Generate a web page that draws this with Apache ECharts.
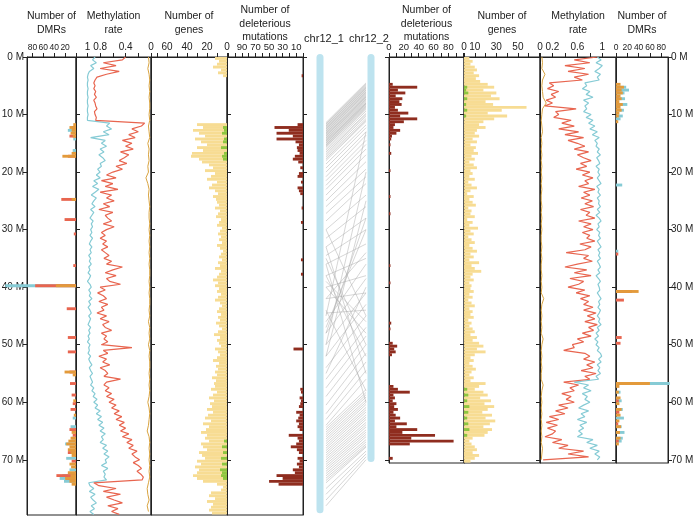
<!DOCTYPE html>
<html>
<head>
<meta charset="utf-8">
<script src="https://cdn.jsdelivr.net/npm/echarts@6/dist/echarts.min.js"></script>
<style>
  html, body { margin: 0; padding: 0; background: #fff; }
  #chart { width: 696px; height: 517px; }
</style>
</head>
<body>
<div id="chart"></div>
<script>
// bin size along the chromosome (Mb) and chromosome extents
const BIN = 0.5
const LEFT_LEN = 79.6
const RIGHT_LEN = 70.56
const MB_TICKS = [0, 10, 20, 30, 40, 50, 60, 70]
const FONT = 'Liberation Sans, Arial, sans-serif'

// methylation rate, chr12_1, every 0.5 Mb from 0
const leftMethRed = [
  0.40, 0.45, 0.75, 0.55, 0.80, 0.50, 0.70, 0.85, 0.88, 0.90,
  0.88, 0.90, 0.87, 0.89, 0.86, 0.90, 0.88, 0.87, 0.85, 0.89, 0.88, 0.86, 0.87,
  0.10,
  0.15, 0.30, 0.20, 0.35, 0.25, 0.45, 0.30, 0.40, 0.28, 0.48, 0.35, 0.42, 0.50, 0.38, 0.55, 0.45, 0.60,
  0.70, 0.55, 0.78, 0.60, 0.72, 0.52, 0.80, 0.62, 0.70, 0.58, 0.75, 0.65, 0.82, 0.60, 0.72, 0.68, 0.62, 0.75, 0.58, 0.70,
  0.78, 0.72, 0.80, 0.70, 0.76, 0.68, 0.78, 0.72, 0.66, 0.74, 0.62, 0.70, 0.45, 0.60, 0.72, 0.55, 0.70, 0.65,
  0.48,
  0.80, 0.72, 0.84, 0.75, 0.70, 0.82, 0.68, 0.78, 0.74, 0.85, 0.70, 0.80, 0.66, 0.76, 0.72, 0.62, 0.78, 0.70, 0.74, 0.68, 0.78,
  0.30,
  0.75, 0.68, 0.82, 0.70, 0.76, 0.65, 0.80, 0.72, 0.68, 0.74, 0.48,
  0.70, 0.74, 0.66, 0.72, 0.62, 0.70, 0.58, 0.66, 0.55, 0.62, 0.50, 0.58, 0.46, 0.55, 0.42, 0.50, 0.40, 0.48, 0.35, 0.45,
  0.30,
  0.38, 0.28, 0.35, 0.22, 0.30, 0.25, 0.18, 0.28, 0.20, 0.15, 0.22, 0.16, 0.12, 0.14,
  0.90,
  0.82, 0.55, 0.75, 0.48, 0.70, 0.58, 0.45, 0.68, 0.52, 0.62, 0.50
]
const leftMethBlue = [
  0.88, 0.92, 0.86, 0.95, 0.90, 0.97, 0.99, 1.00, 0.99, 1.00,
  1.00, 0.99, 1.00, 1.00, 0.99, 1.00, 1.00, 0.99, 1.00, 1.00, 0.99, 1.00, 1.00,
  0.65,
  0.70, 0.62, 0.75, 0.66, 0.95, 0.72, 0.78, 0.70, 0.80, 0.74, 0.82, 0.76, 0.72, 0.80, 0.78, 0.84, 0.80,
  0.86, 0.80, 0.90, 0.84, 0.92, 0.82, 0.88, 0.94, 0.86, 0.90, 0.93, 0.88, 0.95, 0.90, 0.93, 0.96, 0.91, 0.94, 0.92, 0.95,
  0.93, 0.96, 0.92, 0.95, 0.97, 0.93, 0.96, 0.94, 0.98, 0.95, 0.97, 0.94, 0.98, 0.96, 0.99, 0.95, 0.97, 1.00,
  0.96,
  0.94, 0.98, 0.95, 0.97, 0.93, 0.98, 0.95, 0.99, 0.96, 0.94, 0.98, 0.95, 0.97, 0.99, 0.95, 0.98, 0.96, 0.99, 0.97, 1.00, 0.96,
  0.98,
  0.97, 0.99, 0.95, 0.98, 0.96, 0.93, 0.97, 0.95, 0.92, 0.96, 0.94,
  0.92, 0.95, 0.90, 0.93, 0.88, 0.91, 0.85, 0.90, 0.84, 0.88, 0.80, 0.86, 0.78, 0.84, 0.76, 0.82, 0.74, 0.80, 0.72, 0.78,
  0.75,
  0.80, 0.70, 0.76, 0.68, 0.74, 0.66, 0.72, 0.70, 0.78, 0.68, 0.75, 0.72, 0.74, 0.70,
  0.98,
  0.96, 0.90, 0.97, 0.88, 0.95, 0.91, 0.86, 0.94, 0.89, 0.96, 0.90
]
// every 1 Mb from 0
const leftMethOrange = [
  0.04, 0.03, 0.05, 0.03, 0.02, 0.03, 0.02, 0.03, 0.02, 0.02,
  0.03, 0.02, 0.04, 0.03, 0.02, 0.05, 0.03, 0.04, 0.03, 0.05,
  0.04, 0.08, 0.05, 0.03, 0.04, 0.03, 0.02, 0.03, 0.03, 0.02,
  0.03, 0.02, 0.03, 0.02, 0.03, 0.02, 0.03, 0.02, 0.02, 0.03,
  0.02, 0.03, 0.02, 0.02, 0.03, 0.02, 0.04, 0.02, 0.03, 0.02,
  0.04, 0.02, 0.03, 0.02, 0.02, 0.03, 0.02, 0.03, 0.02, 0.03,
  0.05, 0.03, 0.02, 0.03, 0.04, 0.06, 0.03, 0.02, 0.03, 0.02,
  0.03, 0.02, 0.03, 0.02, 0.04, 0.06, 0.05, 0.03, 0.06, 0.04
]

// methylation rate, chr12_2, every 0.5 Mb from 0
const rightMethRed = [
  0.92, 0.55, 0.80, 0.40, 0.72, 0.45, 0.78, 0.55, 0.68,
  0.15, 0.22, 0.12, 0.30, 0.18, 0.25, 0.10, 0.20, 0.08,
  0.58, 0.25, 0.30, 0.22, 0.50, 0.35,
  0.55, 0.30, 0.62, 0.40, 0.70, 0.45, 0.60,
  0.72, 0.55, 0.78, 0.60, 0.70, 0.82, 0.65, 0.75, 0.58, 0.80,
  0.68, 0.85, 0.72, 0.78, 0.62, 0.88, 0.70, 0.80, 0.66, 0.84,
  0.72, 0.86, 0.65, 0.80, 0.74, 0.88, 0.62, 0.82, 0.70, 0.85, 0.68, 0.80, 0.75, 0.88, 0.64, 0.82, 0.72, 0.42, 0.78, 0.70,
  0.84, 0.60, 0.40, 0.75, 0.55, 0.82, 0.48, 0.70, 0.62, 0.45,
  0.72, 0.58, 0.80, 0.65, 0.78, 0.70,
  0.85, 0.70, 0.90, 0.76, 0.88, 0.72, 0.92, 0.78, 0.86, 0.68, 0.82, 0.60, 0.70, 0.52,
  0.55, 0.38, 0.72, 0.80,
  0.70, 0.88, 0.75, 0.85, 0.66, 0.90, 0.72, 0.80,
  0.38,
  0.62, 0.48, 0.55, 0.35, 0.50, 0.42, 0.55,
  0.30, 0.45, 0.25, 0.40,
  0.15, 0.30, 0.10, 0.28, 0.12, 0.25, 0.20, 0.08,
  0.35, 0.20, 0.45, 0.30,
  0.70, 0.45, 0.78, 0.05
]
const rightMethBlue = [
  0.92, 0.98, 0.90, 1.00, 0.95, 0.88, 0.97, 0.92, 0.95,
  0.72, 0.75, 0.68, 0.80, 0.74, 0.85, 0.70, 0.78, 0.72,
  0.75, 0.70, 0.82, 0.74, 0.85, 0.78,
  0.88, 0.80, 0.92, 0.84, 0.95, 0.88, 0.92,
  0.90, 0.95, 0.92, 0.97, 0.91, 0.94, 0.96, 0.90, 0.95, 0.93,
  0.96, 0.92, 0.95, 0.98, 0.91, 0.95, 0.93, 0.97, 0.92, 0.95,
  0.94, 0.97, 0.92, 0.96, 0.90, 0.95, 0.98, 0.93, 0.95, 0.91, 0.96, 0.94, 0.97, 0.92, 0.95, 0.98, 0.93, 0.96, 0.94, 0.97,
  0.92, 0.95, 0.97, 0.93, 0.96, 0.90, 0.94, 0.97, 0.93, 0.95,
  0.96, 0.92, 0.95, 0.98, 0.94, 0.96,
  0.93, 0.97, 0.95, 0.92, 0.96, 0.94, 0.98, 0.92, 0.95, 0.90, 0.94, 0.88, 0.93, 0.90,
  0.95, 0.92, 0.97, 0.99,
  0.94, 0.98, 0.92, 0.96, 0.93, 0.97, 0.90, 0.94,
  0.55,
  0.78, 0.70, 0.82, 0.68, 0.76, 0.72, 0.80,
  0.70, 0.62, 0.78, 0.66,
  0.72, 0.60, 0.75, 0.64, 0.70, 0.62, 0.68, 0.60,
  0.85, 0.75, 0.92, 0.80,
  0.95, 0.88, 0.96, 0.92
]
// every 1 Mb from 0
const rightMethOrange = [
  0.03, 0.04, 0.03, 0.08, 0.04, 0.03, 0.04, 0.05, 0.10, 0.04,
  0.03, 0.02, 0.03, 0.04, 0.02, 0.03, 0.02, 0.03, 0.02, 0.03,
  0.02, 0.03, 0.02, 0.03, 0.02, 0.02, 0.03, 0.02, 0.03, 0.02,
  0.03, 0.02, 0.02, 0.03, 0.02, 0.03, 0.02, 0.02, 0.03, 0.02,
  0.03, 0.02, 0.06, 0.03, 0.02, 0.03, 0.02, 0.03, 0.02, 0.05,
  0.03, 0.02, 0.03, 0.02, 0.03, 0.02, 0.02, 0.05, 0.03, 0.02,
  0.03, 0.02, 0.03, 0.02, 0.03, 0.02, 0.03, 0.02, 0.04, 0.03,
  0.02
]

// number of genes per 0.5 Mb bin
const leftGenes = [
  12, 8, 10, 14, 6, 9, 4, 0,
  0, 0, 0, 0, 0, 0, 0, 0, 0, 0, 0, 0, 0, 0, 0,
  30, 24, 34, 28, 22, 32, 26, 20, 30, 24, 35, 36, 28, 25,
  18, 14, 22, 12, 16, 20, 10, 15, 18, 12, 9, 14, 11,
  10, 8, 12, 7, 9, 11, 6, 8, 10, 5, 7, 9, 6, 8, 5, 10, 7, 4, 6, 8, 5, 9, 7, 12, 6, 8, 10, 14, 9, 12,
  8, 10, 6, 9, 12, 7, 5, 8, 10, 6, 9, 7, 11, 8, 5, 9, 13, 7, 10, 8, 6, 12, 9, 7, 10, 14, 8, 11, 9, 12, 10, 15, 11, 13,
  12, 16, 10, 14, 18, 13, 17, 15, 20, 14, 19, 22, 16, 24, 18, 21, 26, 20,
  22, 18, 26, 24, 20, 28, 25, 22, 30, 26, 32, 28, 30, 34, 30, 24,
  10, 4, 6,
  16, 18, 12, 20, 14, 16, 18, 15
]
const leftGenesGreen = [
  [12, 4], [12.5, 3], [13, 5], [14, 3], [14.5, 4], [15.5, 6], [16.5, 3], [17, 5], [17.5, 4],
  [66.5, 3], [67.5, 5], [68.5, 4], [69.5, 6], [70.5, 5], [71.5, 7], [72, 5], [72.5, 6], [73, 4]
]
const rightGenes = [
  5, 8, 6, 10,
  12, 9, 14, 11, 15,
  22, 28, 18, 30, 25, 33, 20, 27,
  58,
  35, 22, 40, 28,
  18, 14, 20, 12,
  10, 14, 8, 12, 6, 11, 9, 13, 7, 10, 5, 9, 12, 6,
  8, 5, 10, 4, 7, 12, 6, 3, 9, 5, 8, 11, 4, 7, 6, 10, 3, 8, 5, 13, 6, 9, 4, 7, 10, 5, 8, 12, 6, 9, 5, 14, 7, 10, 16, 8, 6, 9, 5, 7,
  6, 9, 5, 8, 4, 7, 10, 5, 8, 6, 9, 4, 7, 5, 8, 10, 6, 12, 8, 14,
  18, 12, 20, 10,
  6, 9, 5, 8, 11, 7, 5, 9, 6, 20,
  14, 10, 18, 22, 15, 25, 19, 28, 22, 17, 26, 20, 29, 24, 18, 26, 22, 19,
  8, 5, 7, 10,
  12, 8, 14, 10, 6
]
const rightGenesGreen = [
  [5, 3], [5.5, 2], [6, 4], [7, 3], [8, 2], [9, 3], [10, 2],
  [57.5, 3], [58.5, 4], [59.5, 3], [60.5, 5], [61.5, 4], [62.5, 3], [63.5, 4], [64.5, 5], [65.5, 3]
]

// number of deleterious mutations, [bin start Mb, count]
const leftDel = [
  [3, 2], [11.5, 8], [12, 42], [12.5, 21], [13, 39], [13.5, 15], [14, 39], [14.5, 11], [15, 6], [15.5, 9],
  [16, 8], [16.5, 5], [17, 12], [17.5, 15], [18, 7], [19, 4], [20, 6], [20.5, 8], [21.5, 3], [22.5, 8],
  [23, 6], [23.5, 4], [26, 2], [28.5, 3], [35, 3], [37.5, 3], [50.5, 14], [57.5, 4], [58, 3], [59, 5],
  [59.5, 3], [60, 4], [60.5, 6], [61.5, 10], [62, 5], [62.5, 7], [63, 10], [63.5, 6], [64, 8], [64.5, 5],
  [65.5, 21], [66, 8], [66.5, 6], [67, 10], [67.5, 18], [68, 9], [68.5, 6], [69.5, 8], [70, 5], [70.5, 9],
  [71, 6], [71.5, 15], [72, 12], [72.5, 39], [73, 30], [73.5, 50], [74, 36]
]
const rightDel = [
  [4.5, 5], [5, 38], [5.5, 12], [6, 22], [6.5, 9], [7, 18], [7.5, 14], [8, 17], [8.5, 8], [9, 12],
  [9.5, 26], [10, 15], [10.5, 38], [11, 20], [11.5, 8], [12, 6], [12.5, 15], [13, 10], [13.5, 4], [14, 3],
  [15, 2], [16.5, 3], [19.5, 2], [24, 2], [27, 2], [36, 2], [39, 2], [46, 3], [47, 2], [49.5, 5],
  [50, 11], [50.5, 7], [51, 9], [51.5, 4], [57, 6], [57.5, 12], [58, 28], [58.5, 6], [59, 8], [59.5, 5],
  [60, 10], [60.5, 7], [61, 12], [61.5, 6], [62, 9], [62.5, 15], [63, 8], [63.5, 24], [64, 10], [64.5, 38],
  [65, 18], [65.5, 62], [66, 30], [66.5, 87], [67, 28], [69.5, 5]
]

// number of DMRs, [bin start Mb, count]
const leftDmrCyan = [
  [12.5, 15], [14, 5], [16, 6], [39.5, 130], [62.5, 6], [64, 10], [66, 8], [67, 20], [69.5, 18],
  [71.5, 12], [72.5, 25], [73, 30], [73.5, 22]
]
const leftDmrRed = [
  [12, 8], [13.5, 12], [17, 15], [24.5, 27], [28, 21], [30.5, 4], [36, 5], [39.5, 75], [43.5, 17],
  [48.5, 15], [51, 15], [54.5, 12], [56.5, 11], [58.5, 8], [60, 6], [61, 10], [64.5, 12], [65.5, 6],
  [68.5, 15], [70, 8], [72.5, 36], [73, 18]
]
const leftDmrOrange = [
  [11.5, 5], [12, 12], [12.5, 8], [13, 10], [13.5, 6], [16.5, 8], [17, 25], [24.5, 8], [39.5, 37],
  [54.5, 21], [55, 6], [59.5, 5], [62, 4], [65, 8], [66, 10], [66.5, 14], [67, 18], [67.5, 12], [68, 15],
  [68.5, 10], [69, 8], [70.5, 12], [71, 9], [72, 15], [72.5, 10], [73, 20], [73.5, 12], [74, 8]
]
const rightDmrCyan = [
  [5, 18], [5.5, 23], [6, 15], [7, 16], [8, 20], [9, 14], [10, 12], [10.5, 8], [22, 11], [33.5, 4],
  [56.5, 95], [58, 8], [59.5, 10], [61, 12], [62.5, 14], [64, 10], [65, 15], [66, 12], [66.5, 10]
]
const rightDmrRed = [
  [5.5, 6], [7, 5], [34, 4], [40.5, 28], [42, 14], [48.5, 10], [49.5, 8], [59.5, 5], [61.5, 6],
  [63.5, 4], [66.5, 5]
]
const rightDmrOrange = [
  [4.5, 8], [5, 14], [5.5, 10], [6, 12], [6.5, 8], [7, 10], [7.5, 6], [8, 12], [8.5, 8], [9, 10],
  [9.5, 6], [10, 5], [11, 4], [40.5, 40], [56.5, 60], [57, 6], [58, 5], [59, 8], [60, 6], [61, 10],
  [62, 8], [63, 6], [64, 9], [65, 7], [66, 8], [67, 5]
]

// chromosomes and syntenic pairs [chr12_1 Mb, chr12_2 Mb]
const chromNames = ['chr12_1', 'chr12_2']
const chromLengths = [79.3, 70.4]
const synteny = [
  [11.4, 4.5], [11.6, 4.7], [11.7, 4.9], [11.9, 5.1], [12.0, 5.2], [12.2, 5.4], [12.3, 5.5], [12.5, 5.7],
  [12.6, 5.8], [12.8, 6.0], [12.9, 6.1], [13.1, 6.3], [13.2, 6.4], [13.4, 6.6], [13.5, 6.8], [13.7, 6.9],
  [13.8, 7.0], [14.0, 7.2], [14.1, 7.3], [14.3, 7.5], [14.4, 7.7], [14.6, 7.9], [14.7, 8.0], [14.9, 8.1],
  [15.0, 8.2], [15.2, 8.4], [15.3, 8.5], [15.5, 8.7], [15.6, 8.9], [15.9, 9.1], [16.2, 9.4], [16.5, 9.8],
  [16.8, 10.0], [17.1, 10.3], [17.4, 10.7], [17.7, 11.0], [18.0, 11.2],
  [18.6, 11.8], [19.3, 12.3], [20.0, 13.0], [20.8, 13.6], [21.5, 14.5], [22.3, 15.2], [23.0, 16.0],
  [24.0, 17.0], [25.0, 18.2], [26.0, 19.5], [27.2, 20.8], [28.5, 22.0], [30.0, 24.0], [31.5, 26.0],
  [33.0, 28.0], [34.5, 30.0], [36.0, 32.5], [38.0, 35.0], [40.0, 38.0], [42.0, 41.0], [44.5, 44.0],
  [45, 13], [50, 20], [38, 52], [40, 48], [33, 55], [36, 60], [47, 30], [52, 25], [42, 34], [55, 40],
  [30, 45], [44, 58], [39, 46], [48, 28], [35, 50],
  [46, 36], [48, 38.5], [50, 41], [52, 43], [54, 45], [56, 47], [57.5, 48.5], [59, 50], [60.5, 51.5],
  [62, 53], [63, 54.5], [64, 56],
  [64.4, 57.8], [64.8, 58.3], [65.2, 58.7], [65.6, 59.1], [66.0, 59.6], [66.4, 60.0], [66.8, 60.4],
  [67.2, 60.9], [67.6, 61.3], [68.0, 61.7], [68.4, 62.2], [68.8, 62.6], [69.2, 63.0], [69.6, 63.5],
  [70.0, 63.9], [70.4, 64.3], [70.8, 64.8], [71.2, 65.2], [71.6, 65.6], [72.0, 66.0], [72.4, 66.5],
  [72.8, 66.9], [73.2, 67.3], [73.6, 67.6], [74.0, 67.8],
  [75.0, 68.5], [76.0, 69.0], [77.0, 69.5], [78.0, 70.0]
]

// 颜色
const RED = '#e8654f'
const CYAN = '#86cbd5'
const ORANGE = '#d9a441'
const YELLOW = '#f7dc93'
const GREEN = '#8dc63f'
const DEL = '#8f2d1f'
const CHROM = '#bde3ef'

const grids = []
const xAxes = []
const yAxes = []
const series = []

function yAxis(gi, len, side, labels) {
  return {
    gridIndex: gi, type: 'value', min: 0, max: len, inverse: true, position: side,
    axisLine: { show: true, lineStyle: { color: '#222', width: 1 } },
    axisTick: { show: true, length: 4, customValues: MB_TICKS, lineStyle: { color: '#222' } },
    axisLabel: {
      show: !!labels, customValues: MB_TICKS, margin: 3, fontSize: 10, color: '#222',
      fontFamily: FONT, formatter: (v) => v + ' M'
    },
    splitLine: { show: false }
  }
}

// 面板：一个 grid 加顶部数值轴
function addPanel(o) {
  const gi = grids.length
  const len = o.right ? RIGHT_LEN : LEFT_LEN
  grids.push({
    left: o.left, top: 57, width: o.width, height: o.right ? 406 : 458,
    show: true, borderColor: '#222', borderWidth: 1, outerBoundsMode: 'none'
  })
  xAxes.push({
    gridIndex: gi, type: 'value', position: 'top', min: 0, max: o.max, inverse: !o.right,
    name: o.name, nameLocation: 'middle', nameGap: o.gap || 34, nameMoveOverlap: false,
    nameTextStyle: { fontSize: 10.5, lineHeight: 13.5, color: '#222', fontFamily: FONT, verticalAlign: 'middle' },
    axisLine: { show: true, lineStyle: { color: '#222' } },
    axisTick: { show: true, length: 4, customValues: o.ticks, lineStyle: { color: '#222' } },
    axisLabel: {
      show: true, customValues: o.labels, margin: 5, fontSize: o.font || 10, color: '#222',
      fontFamily: FONT, showMinLabel: true, showMaxLabel: true, hideOverlap: false
    },
    splitLine: { show: false }
  })
  const xi = xAxes.length - 1
  yAxes.push(yAxis(gi, len, o.right ? 'left' : 'right', false))
  const yi = yAxes.length - 1
  if (o.outer) yAxes.push(yAxis(gi, len, o.right ? 'right' : 'left', true))
  return { xi, yi }
}

function hbar(color) {
  return function (params, api) {
    const pos = api.value(0)
    const val = api.value(1)
    const a = api.coord([0, pos])
    const b = api.coord([val, pos + BIN])
    return {
      type: 'rect',
      shape: {
        x: Math.min(a[0], b[0]), y: Math.min(a[1], b[1]),
        width: Math.abs(b[0] - a[0]), height: Math.abs(b[1] - a[1])
      },
      style: { fill: color }
    }
  }
}

function addBars(p, data, color) {
  series.push({
    type: 'custom', xAxisIndex: p.xi, yAxisIndex: p.yi, clip: false,
    renderItem: hbar(color), encode: { x: 1, y: 0 }, data: data, silent: true
  })
}

function addLine(p, values, step, color, width) {
  series.push({
    type: 'line', xAxisIndex: p.xi, yAxisIndex: p.yi, showSymbol: false, silent: true,
    lineStyle: { color: color, width: width },
    data: values.map((v, i) => [v, i * step])
  })
}

const binned = (values) => values.map((v, i) => [i * BIN, v])

// left side panels
const pDmrL = addPanel({
  left: 27, width: 49, max: 90, name: 'Number of\nDMRs', outer: true, font: 8.5,
  ticks: [0, 20, 40, 60, 80], labels: [20, 40, 60, 80]
})
const pMethL = addPanel({
  left: 76, width: 75, max: 1.18, name: 'Methylation\nrate',
  ticks: [0, 0.2, 0.4, 0.6, 0.8, 1], labels: [0, 0.4, 0.8, 1]
})
const pGeneL = addPanel({
  left: 151, width: 76, max: 76, name: 'Number of\ngenes',
  ticks: [0, 10, 20, 30, 40, 50, 60, 70], labels: [0, 20, 40, 60]
})
const pDelL = addPanel({
  left: 227, width: 76, max: 112, name: 'Number of\ndeleterious\nmutations', font: 9.5, gap: 33,
  ticks: [0, 10, 20, 30, 40, 50, 60, 70, 80, 90, 100, 110], labels: [10, 30, 50, 70, 90]
})

// centre: chromosomes and synteny
const cg = grids.length
grids.push({ left: 316, top: 57, width: 59, height: 458, show: false, outerBoundsMode: 'none' })
xAxes.push({ gridIndex: cg, type: 'value', min: 0, max: 59, show: false })
const cx = xAxes.length - 1
// one label axis per chromosome name, so the two names never compete for space
;[8, 53].forEach((pos, i) => {
  xAxes.push({
    gridIndex: cg, type: 'value', position: 'top', min: 0, max: 59,
    axisLine: { show: false }, axisTick: { show: false }, splitLine: { show: false },
    axisLabel: {
      customValues: [pos], margin: 13, fontSize: 11, color: '#222', fontFamily: FONT,
      showMinLabel: true, showMaxLabel: true, formatter: () => chromNames[i]
    }
  })
})
yAxes.push({ gridIndex: cg, type: 'value', min: 0, max: LEFT_LEN, inverse: true, show: false })
const cy = yAxes.length - 1

// right side panels
const pDelR = addPanel({
  left: 389, width: 75, max: 101, right: true, name: 'Number of\ndeleterious\nmutations', font: 9.5, gap: 33,
  ticks: [0, 10, 20, 30, 40, 50, 60, 70, 80, 90, 100], labels: [0, 20, 40, 60, 80]
})
const pGeneR = addPanel({
  left: 464, width: 76, max: 70.5, right: true, name: 'Number of\ngenes',
  ticks: [0, 10, 20, 30, 40, 50, 60, 70], labels: [0, 10, 30, 50]
})
const pMethR = addPanel({
  left: 540, width: 76, max: 1.22, right: true, name: 'Methylation\nrate',
  ticks: [0, 0.2, 0.4, 0.6, 0.8, 1], labels: [0, 0.2, 0.6, 1]
})
const pDmrR = addPanel({
  left: 616, width: 52, max: 92, right: true, outer: true, name: 'Number of\nDMRs', font: 8.5,
  ticks: [0, 20, 40, 60, 80], labels: [0, 20, 40, 60, 80]
})

// DMRs
addBars(pDmrL, leftDmrCyan, CYAN)
addBars(pDmrL, leftDmrRed, RED)
addBars(pDmrL, leftDmrOrange, '#e39a3b')
addBars(pDmrR, rightDmrCyan, CYAN)
addBars(pDmrR, rightDmrRed, RED)
addBars(pDmrR, rightDmrOrange, '#e39a3b')

// methylation
addLine(pMethL, leftMethBlue, BIN, CYAN, 1.2)
addLine(pMethL, leftMethRed, BIN, RED, 1.2)
addLine(pMethL, leftMethOrange, 1, ORANGE, 1)
addLine(pMethR, rightMethBlue, BIN, CYAN, 1.2)
addLine(pMethR, rightMethRed, BIN, RED, 1.2)
addLine(pMethR, rightMethOrange, 1, ORANGE, 1)

// genes
addBars(pGeneL, binned(leftGenes), YELLOW)
addBars(pGeneL, leftGenesGreen, GREEN)
addBars(pGeneR, binned(rightGenes), YELLOW)
addBars(pGeneR, rightGenesGreen, GREEN)

// deleterious mutations
addBars(pDelL, leftDel, DEL)
addBars(pDelR, rightDel, DEL)

// synteny links
series.push({
  type: 'lines', coordinateSystem: 'cartesian2d', xAxisIndex: cx, yAxisIndex: cy, silent: true,
  lineStyle: { color: '#a8a8a8', width: 0.8, opacity: 0.6 },
  data: synteny.map(([l, r]) => ({ coords: [[10, l], [50, r]] }))
})

// chromosome bars
series.push({
  type: 'custom', xAxisIndex: cx, yAxisIndex: cy, clip: false, silent: true,
  data: chromLengths.map((len, i) => [i === 0 ? 4 : 55, len]),
  encode: { x: 0, y: 1 },
  renderItem: (params, api) => {
    const top = api.coord([api.value(0), 0])
    const bot = api.coord([api.value(0), api.value(1)])
    return {
      type: 'rect',
      shape: { x: top[0] - 3.5, y: top[1] - 3, width: 7, height: bot[1] - top[1] + 3, r: 3.5 },
      style: { fill: CHROM }
    }
  }
})

const chart = echarts.init(document.getElementById('chart'))
chart.setOption({
  animation: false,
  textStyle: { fontFamily: FONT },
  grid: grids,
  xAxis: xAxes,
  yAxis: yAxes,
  series: series
})
</script>
</body>
</html>
